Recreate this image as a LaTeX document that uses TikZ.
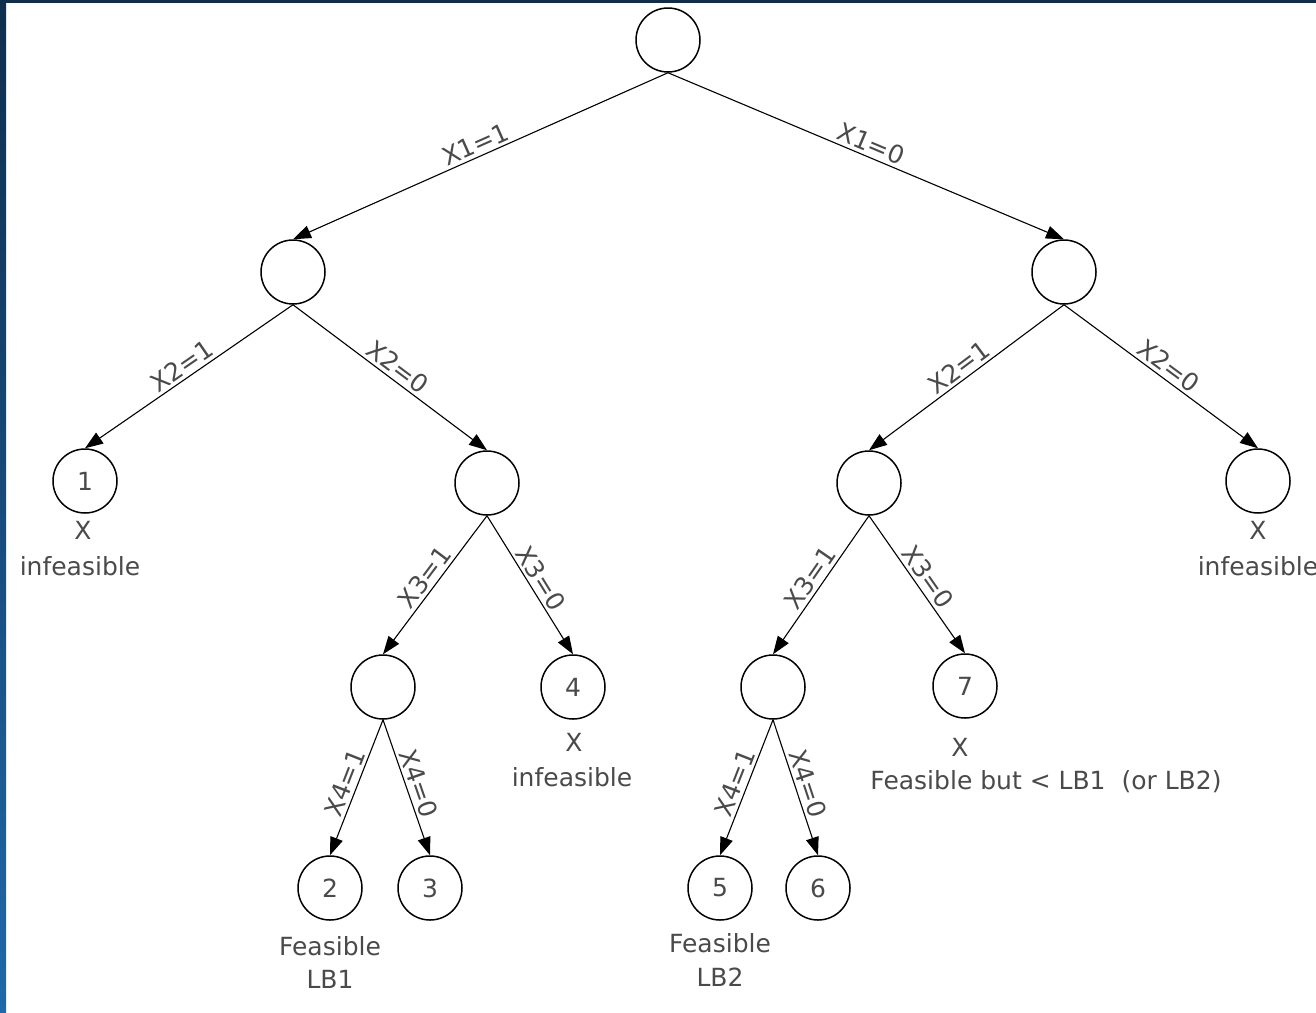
\documentclass[tikz,border=0pt]{standalone}
\usepackage{fontspec}
\setmainfont{DejaVu Sans}
\usetikzlibrary{arrows.meta}
\definecolor{txt}{HTML}{4A4A4A}
\definecolor{navytop}{HTML}{0E2E4E}
\definecolor{navybot}{HTML}{2068A8}
\begin{document}
\begin{tikzpicture}[x=1pt,y=-1pt,
  state/.style={circle,draw,line width=1.5pt,minimum size=64pt,inner sep=0pt,
    font=\fontsize{25}{27}\selectfont,text=txt},
  edge/.style={line width=1.1pt,-{Triangle[length=18pt,width=13pt]}},
  lab/.style={sloped,above,midway,font=\fontsize{25}{27}\selectfont,text=txt,inner sep=3pt},
  note/.style={font=\fontsize{25}{27}\selectfont,text=txt,inner sep=0pt}]
\useasboundingbox (0,0) rectangle (1316,1012);
\clip (0,0) rectangle (1316,1012);
\fill[white] (0,0) rectangle (1316,1012);
\shade[top color=navytop,bottom color=navybot] (0,0) rectangle (6,1012);
\fill[navytop] (0,0) rectangle (1316,3);

\node[state] (r) at (668,40) {};
\node[state] (a) at (293,272) {};
\node[state] (b) at (1064,272) {};
\node[state] (n1) at (85,481) {1};
\node[state] (c) at (487,483) {};
\node[state] (d) at (869,483) {};
\node[state] (e) at (1258,481) {};
\node[state] (f) at (383,687) {};
\node[state] (n4) at (573,687) {4};
\node[state] (g) at (773,687) {};
\node[state] (n7) at (965,686) {7};
\node[state] (n2) at (330,888) {2};
\node[state] (n3) at (430,888) {3};
\node[state] (n5) at (720,888) {5};
\node[state] (n6) at (818,888) {6};

\draw[edge] (r.south) -- node[lab]{X1=1} (a.north);
\draw[edge] (r.south) -- node[lab]{X1=0} (b.north);
\draw[edge] (a.south) -- node[lab]{X2=1} (n1.north);
\draw[edge] (a.south) -- node[lab]{X2=0} (c.north);
\draw[edge] (b.south) -- node[lab]{X2=1} (d.north);
\draw[edge] (b.south) -- node[lab]{X2=0} (e.north);
\draw[edge] (c.south) -- node[lab]{X3=1} (f.north);
\draw[edge] (c.south) -- node[lab]{X3=0} (n4.north);
\draw[edge] (d.south) -- node[lab]{X3=1} (g.north);
\draw[edge] (d.south) -- node[lab]{X3=0} (n7.north);
\draw[edge] (f.south) -- node[lab]{X4=1} (n2.north);
\draw[edge] (f.south) -- node[lab]{X4=0} (n3.north);
\draw[edge] (g.south) -- node[lab]{X4=1} (n5.north);
\draw[edge] (g.south) -- node[lab]{X4=0} (n6.north);

\node[note] (x1) at (83,530) {X};
\node[note] (i1) at (80,566) {infeasible};
\node[note] (xe) at (1258,530) {X};
\node[note] (ie) at (1258,566) {infeasible};
\node[note] (x4) at (574,742) {X};
\node[note] (i4) at (572,777) {infeasible};
\node[note] (x7) at (960,747) {X};
\node[note] (i7) at (1046,782) {Feasible but < LB1\ \ (or LB2)};
\node[note] (f2) at (330,946) {Feasible};
\node[note] (l2) at (330,979) {LB1};
\node[note] (f5) at (720,943) {Feasible};
\node[note] (l5) at (720,977) {LB2};
\end{tikzpicture}
\end{document}
